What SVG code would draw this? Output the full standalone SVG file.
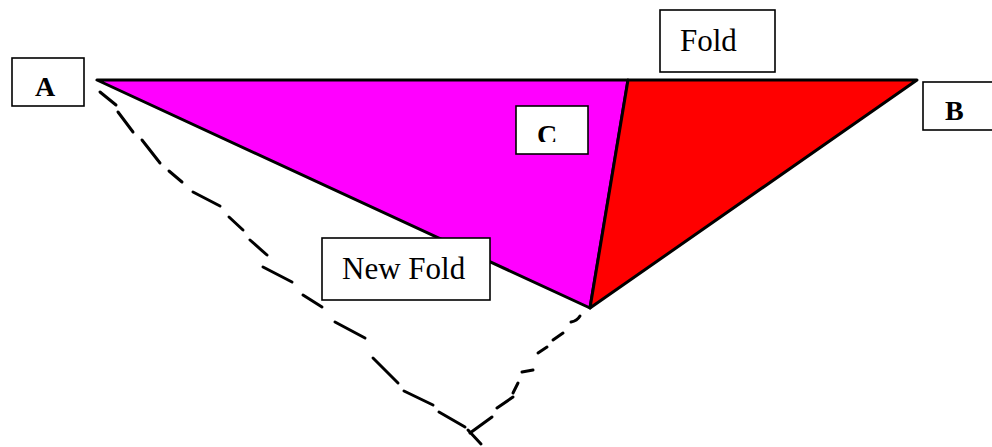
<svg xmlns="http://www.w3.org/2000/svg" width="992" height="447" viewBox="0 0 992 447">
<defs>
<style>
.box{fill:#fff;stroke:#000;stroke-width:1.6}
.lbl{font-family:"Liberation Serif","Times New Roman",serif;font-size:31px;fill:#000}
.pt{font-family:"Liberation Serif","Times New Roman",serif;font-size:28px;font-weight:bold;fill:#000}
.tri{stroke:#000;stroke-width:3;stroke-linejoin:round}
.dash{fill:none;stroke:#000;stroke-width:3;stroke-linecap:round}
</style>
<clipPath id="clipC"><rect x="516" y="106" width="72" height="36"/></clipPath>
</defs>
<rect width="992" height="447" fill="#fff"/>
<g id="shapes">
<polygon class="tri" fill="#ff00ff" points="97,80 628,80 590,308"/>
<polygon class="tri" fill="#ff0000" points="628,80 917,80 590,308"/>
</g>
<g id="new-fold-line" class="dash">
<line x1="100" y1="92" x2="116" y2="105"/>
<line x1="118" y1="112" x2="133" y2="132"/>
<line x1="142" y1="140" x2="160" y2="163"/>
<line x1="169" y1="171" x2="182" y2="182"/>
<line x1="193" y1="192" x2="220" y2="206"/>
<line x1="229" y1="217" x2="243" y2="230"/>
<line x1="250" y1="240" x2="267" y2="255"/>
<line x1="263" y1="267" x2="292" y2="282"/>
<line x1="303" y1="295" x2="322" y2="307"/>
<line x1="335" y1="322" x2="365" y2="338"/>
<line x1="373" y1="358" x2="398" y2="383"/>
<line x1="404" y1="391" x2="433" y2="405"/>
<line x1="439" y1="412" x2="465" y2="427"/>
<path d="M468,430 L481,444"/>
<path d="M470,433 L492,417"/>
<line x1="497" y1="408" x2="513" y2="397"/>
<line x1="513" y1="393" x2="518" y2="383"/>
<line x1="522" y1="372" x2="533" y2="370"/>
<line x1="538" y1="353" x2="547" y2="347"/>
<line x1="553" y1="340" x2="563" y2="333"/>
<path d="M571,322 Q577,321 580,316"/>
</g>
<g id="node-A">
<rect class="box" x="12" y="58" width="72" height="48"/>
<text class="pt" x="35" y="96">A</text>
</g>
<g id="node-B">
<rect class="box" x="923" y="82" width="80" height="48"/>
<text class="pt" x="945" y="120">B</text>
</g>
<g id="node-C">
<rect class="box" x="516" y="106" width="72" height="48"/>
<text class="pt" x="537" y="144" clip-path="url(#clipC)">C</text>
</g>
<g id="node-Fold">
<rect class="box" x="660" y="10" width="115" height="62"/>
<text class="lbl" x="680" y="51">Fold</text>
</g>
<g id="node-NewFold">
<rect class="box" x="322" y="238" width="168" height="62"/>
<text class="lbl" x="342" y="279">New Fold</text>
</g>
</svg>
